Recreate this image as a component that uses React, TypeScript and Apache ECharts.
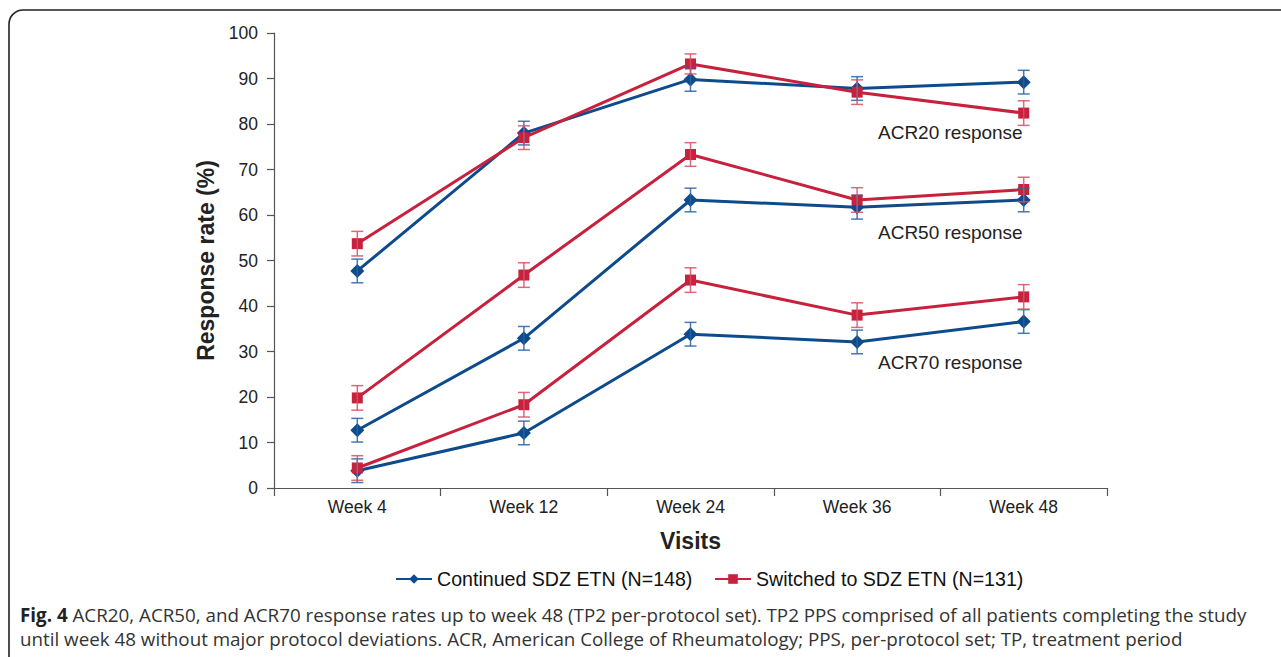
import React, { useEffect, useRef } from "react";
import * as echarts from "echarts";

const visits = ["Week 4", "Week 12", "Week 24", "Week 36", "Week 48"];
const yTicks = [0, 10, 20, 30, 40, 50, 60, 70, 80, 90, 100];

const contACR20 = [47.7, 78.0, 89.8, 87.8, 89.2];
const contACR50 = [12.7, 32.9, 63.3, 61.7, 63.3];
const contACR70 = [3.8, 12.1, 33.8, 32.1, 36.6];
const swACR20 = [53.7, 77.0, 93.2, 87.0, 82.4];
const swACR50 = [19.8, 46.8, 73.3, 63.3, 65.6];
const swACR70 = [4.4, 18.3, 45.7, 38.0, 42.0];

const contErr20 = [2.6, 2.6, 2.6, 2.6, 2.6];
const contErr50 = [2.6, 2.6, 2.6, 2.6, 2.6];
const contErr70 = [2.6, 2.6, 2.6, 2.6, 2.6];
const swErr20 = [2.7, 2.6, 2.2, 2.7, 2.7];
const swErr50 = [2.7, 2.7, 2.6, 2.7, 2.7];
const swErr70 = [2.7, 2.7, 2.7, 2.7, 2.7];

const CONT = "Continued SDZ ETN (N=148)";
const SW = "Switched to SDZ ETN (N=131)";
const BLUE = "#0d4b8c";
const RED = "#c7213d";
const BLUE_ERR = "rgba(40,100,165,0.85)";
const RED_ERR = "rgba(215,80,100,0.85)";

const FONT = "'Liberation Sans', Arial, sans-serif";
const CAP_FONT = "'Open Sans', sans-serif";

function lineSeries(name: string, data: number[], color: string, symbol: string, size: number) {
  return {
    type: "line",
    name,
    data,
    symbol,
    symbolSize: size,
    lineStyle: { color, width: 3 },
    itemStyle: { color },
    z: 3,
  };
}

function errSeries(name: string, values: number[], errs: number[], color: string) {
  return {
    type: "custom",
    name,
    z: 4,
    silent: true,
    data: values.map((v, i) => [i, v - errs[i], v + errs[i]]),
    renderItem: (params: any, api: any) => {
      const x = api.value(0);
      const lo = api.coord([x, api.value(1)]);
      const hi = api.coord([x, api.value(2)]);
      const cap = 6;
      const st = { stroke: color, lineWidth: 1.5 };
      return {
        type: "group",
        children: [
          { type: "line", shape: { x1: lo[0], y1: lo[1], x2: hi[0], y2: hi[1] }, style: st },
          { type: "line", shape: { x1: lo[0] - cap, y1: lo[1], x2: lo[0] + cap, y2: lo[1] }, style: st },
          { type: "line", shape: { x1: hi[0] - cap, y1: hi[1], x2: hi[0] + cap, y2: hi[1] }, style: st },
        ],
      };
    },
  };
}

function legendAt(name: string, left: number) {
  return {
    data: [name],
    left,
    top: 569,
    padding: 0,
    itemWidth: 36,
    itemHeight: 12,
    textStyle: { fontSize: 19.6, color: "#111", fontFamily: FONT },
  };
}

export default function App() {
  const ref = useRef<HTMLDivElement>(null);
  useEffect(() => {
    document.body.style.margin = "0";
    const chart = echarts.init(ref.current!, null, { renderer: "svg" });
    chart.setOption({
      animation: false,
      backgroundColor: "#ffffff",
      grid: { left: 274, right: 174, top: 33, bottom: 169 },
      legend: [legendAt(CONT, 395), legendAt(SW, 714)],
      xAxis: {
        type: "category",
        data: visits,
        boundaryGap: true,
        name: "Visits",
        nameLocation: "middle",
        nameGap: 41,
        nameTextStyle: { fontSize: 23, fontWeight: "bold", color: "#222", fontFamily: FONT },
        axisLine: { lineStyle: { color: "#555", width: 1.2 } },
        axisTick: { show: true, length: 8, lineStyle: { color: "#555", width: 1.2 }, alignWithLabel: false },
        axisLabel: { fontSize: 17.5, color: "#222", margin: 10, fontFamily: FONT },
        splitLine: { show: false },
      },
      yAxis: {
        type: "value",
        min: 0,
        max: 100,
        interval: 10,
        name: "Response rate (%)",
        nameLocation: "middle",
        nameGap: 54,
        nameTextStyle: { fontSize: 23, fontWeight: "bold", color: "#222", fontFamily: FONT },
        axisLine: { show: true, lineStyle: { color: "#555", width: 1.2 } },
        axisTick: { show: true, length: 7, lineStyle: { color: "#555", width: 1.2 } },
        axisLabel: {
          fontSize: 17.5,
          color: "#222",
          margin: 16,
          fontFamily: FONT,
          formatter: (v: number) => (yTicks.includes(v) ? String(v) : ""),
        },
        splitLine: { show: false },
      },
      series: [
        lineSeries(CONT, contACR20, BLUE, "diamond", 14),
        lineSeries(CONT, contACR50, BLUE, "diamond", 14),
        lineSeries(CONT, contACR70, BLUE, "diamond", 14),
        lineSeries(SW, swACR20, RED, "rect", 11),
        lineSeries(SW, swACR50, RED, "rect", 11),
        lineSeries(SW, swACR70, RED, "rect", 11),
        errSeries(CONT, contACR20, contErr20, BLUE_ERR),
        errSeries(CONT, contACR50, contErr50, BLUE_ERR),
        errSeries(CONT, contACR70, contErr70, BLUE_ERR),
        errSeries(SW, swACR20, swErr20, RED_ERR),
        errSeries(SW, swACR50, swErr50, RED_ERR),
        errSeries(SW, swACR70, swErr70, RED_ERR),
      ],
      graphic: [
        {
          type: "rect",
          shape: { x: 9, y: 10, width: 1320, height: 720, r: 14 },
          style: { fill: "none", stroke: "#222", lineWidth: 1.6 },
          z: 0,
          silent: true,
        },
        {
          type: "text",
          x: 878,
          y: 132,
          style: { text: "ACR20 response", fontSize: 19, fill: "#222", fontFamily: FONT, textVerticalAlign: "middle" },
        },
        {
          type: "text",
          x: 878,
          y: 232,
          style: { text: "ACR50 response", fontSize: 19, fill: "#222", fontFamily: FONT, textVerticalAlign: "middle" },
        },
        {
          type: "text",
          x: 878,
          y: 362,
          style: { text: "ACR70 response", fontSize: 19, fill: "#222", fontFamily: FONT, textVerticalAlign: "middle" },
        },
        {
          type: "text",
          x: 20,
          y: 615,
          style: {
            text: "{b|Fig. 4} ACR20, ACR50, and ACR70 response rates up to week 48 (TP2 per-protocol set). TP2 PPS comprised of all patients completing the study",
            fontSize: 18.8,
            fill: "#333",
            fontFamily: CAP_FONT,
            textVerticalAlign: "middle",
            rich: { b: { fontWeight: "bold", fontSize: 18.8, fill: "#222", fontFamily: CAP_FONT } },
          },
        },
        {
          type: "text",
          x: 20,
          y: 639,
          style: {
            text: "until week 48 without major protocol deviations. ACR, American College of Rheumatology; PPS, per-protocol set; TP, treatment period",
            fontSize: 18.8,
            fill: "#333",
            fontFamily: CAP_FONT,
            textVerticalAlign: "middle",
          },
        },
      ],
    });
    return () => chart.dispose();
  }, []);
  return <div ref={ref} style={{ position: "fixed", left: 0, top: 0, width: 1281, height: 657 }} />;
}
